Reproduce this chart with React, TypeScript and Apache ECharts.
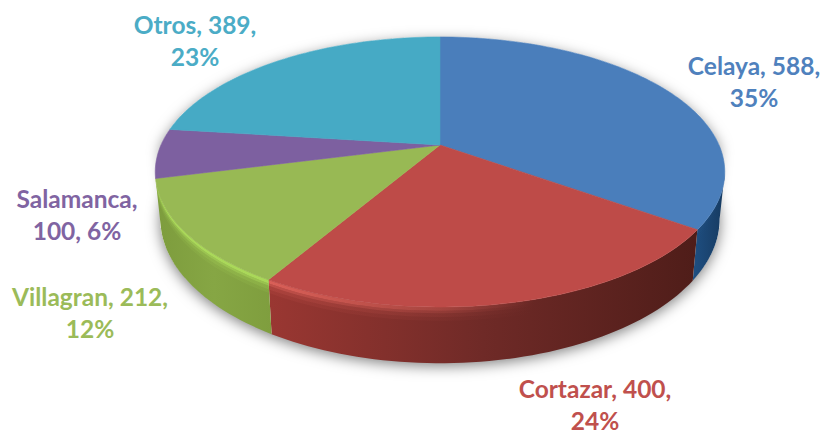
import React, { useEffect, useRef } from "react";
import * as echarts from "echarts";

const categories = ["Celaya", "Cortazar", "Villagran", "Salamanca", "Otros"];
const values = [588, 400, 212, 100, 389];
const percents = [35, 24, 12, 6, 23];
const labelLines = [
  ["Celaya, 588,", "35%"],
  ["Cortazar, 400,", "24%"],
  ["Villagran, 212,", "12%"],
  ["Salamanca,", "100, 6%"],
  ["Otros, 389,", "23%"],
];
const total = values.reduce((a, b) => a + b, 0);

const labelColors = ["#4f81bd", "#c0504d", "#9bbb59", "#8064a2", "#4bacc6"];
const faceColors = ["#4a7ebb", "#be4b48", "#98b954", "#7d60a0", "#46aac5"];
const wallStops: string[][] = [
  ["#1f4f82", "#163a60"],
  ["#9a3732", "#6f2a27", "#4f1d19"],
  ["#7d9c3d", "#86a644", "#7f9e3e"],
  ["#5f4a80", "#5f4a80"],
  ["#2f7f95", "#2f7f95"],
];
const rimColors = ["#2f659e", "#e0645c", "#aede5c", "#8064a2", "#4bacc6"];
const rimEnd = [0, 0, 1, 0, 0];
const rimStart = [0.15, 1, 1, 0, 0];

// Perspective model of the pie's disc
const CX = 440, CY = 145, A = 279, B = 129.6, K = 0.2, DEPTH = 45;
const WALL_FROM = 101.5, WALL_TO = 256;
const labelAnchors = [
  [754, 81], [595, 404], [90, 312], [77, 214], [195, 40],
];

const rad = (d: number) => (d * Math.PI) / 180;
function project(deg: number, d = 0): number[] {
  const X = Math.sin(rad(deg));
  const Y = -Math.cos(rad(deg));
  const w = 1 - K * Y;
  const f = 1 - (0.018 * d) / DEPTH;
  return [CX + (A * f * X) / w, CY + (B * Y) / w + d / w];
}
function arcPoints(from: number, to: number, d = 0): number[][] {
  const n = Math.max(2, Math.ceil((to - from) / 1.5));
  const pts: number[][] = [];
  for (let i = 0; i <= n; i++) pts.push(project(from + ((to - from) * i) / n, d));
  return pts;
}
function band(from: number, to: number, d0: number, d1: number): number[][] {
  return arcPoints(from, to, d0).concat(arcPoints(from, to, d1).reverse());
}
function sliceRange(i: number): number[] {
  const before = values.slice(0, i).reduce((a, b) => a + b, 0);
  return [(before / total) * 360, ((before + values[i]) / total) * 360];
}
function hGrad(stops: string[]) {
  return new echarts.graphic.LinearGradient(
    0, 0, 1, 0,
    stops.map((color, i) => ({ offset: stops.length > 1 ? i / (stops.length - 1) : 0, color }))
  );
}
function fade(color: string, a0: number, a1: number, mid: number) {
  const n = parseInt(color.slice(1), 16);
  const rgb = `${(n >> 16) & 255},${(n >> 8) & 255},${n & 255}`;
  return new echarts.graphic.LinearGradient(0, 0, 1, 0, [
    { offset: 0, color: `rgba(${rgb},${a0})` },
    { offset: mid, color: `rgba(${rgb},${a1})` },
    { offset: 1, color: `rgba(${rgb},${a1})` },
  ]);
}

function renderSlice(params: any) {
  const i = params.dataIndex;
  const [from, to] = sliceRange(i);
  const children: any[] = [];
  const wf = Math.max(from, WALL_FROM);
  const wt = Math.min(to, WALL_TO);
  if (wt > wf) {
    children.push({
      type: "polygon",
      shape: { points: band(wf, wt, 0, DEPTH) },
      style: { fill: hGrad(wallStops[i]) },
    });
    if (rimStart[i] > 0) {
      const strips = [[0, 3, 0.9], [3, 5, 0.55], [5, 8, 0.25], [8, 11, 0.1]];
      strips.forEach(([d0, d1, alpha]) => {
        // wall runs clockwise, so the left end of the red wall is its brightest end
        const fill = i === 1
          ? new echarts.graphic.LinearGradient(0, 0, 1, 0, [
              { offset: 0, color: `rgba(224,100,92,${alpha})` },
              { offset: 0.42, color: `rgba(224,100,92,${alpha * 0.45})` },
              { offset: 0.62, color: "rgba(224,100,92,0)" },
              { offset: 1, color: "rgba(224,100,92,0)" },
            ])
          : fade(rimColors[i], alpha * rimStart[i], alpha * rimEnd[i], 1);
        children.push({
          type: "polygon",
          shape: { points: band(wf, wt, d0, d1) },
          style: { fill },
        });
      });
    }
  }
  const face = [[CX, CY]].concat(arcPoints(from, to));
  children.push({
    type: "polygon",
    shape: { points: face },
    style: { fill: faceColors[i], stroke: faceColors[i], lineWidth: 0.6 },
  });
  const [lx, ly] = labelAnchors[i];
  children.push({
    type: "text",
    x: lx,
    y: ly,
    style: {
      text: labelLines[i].join("\n"),
      fill: labelColors[i],
      font: 'bold 24.5px Lato',
      lineHeight: 32,
      align: "center",
      verticalAlign: "middle",
    },
  });
  return { type: "group", children };
}

function renderShadow() {
  return {
    type: "polygon",
    shape: { points: arcPoints(90, 270, DEPTH - 1).concat(arcPoints(270, 450, 0)) },
    style: {
      fill: "#ffffff",
      shadowBlur: 14,
      shadowColor: "rgba(0,0,0,0.5)",
      shadowOffsetY: 4,
    },
  };
}

export default function App() {
  const ref = useRef<HTMLDivElement>(null);
  useEffect(() => {
    const chart = echarts.init(ref.current!, undefined, { renderer: "svg" });
    chart.setOption({
      animation: false,
      backgroundColor: "#ffffff",
      series: [
        {
          type: "custom",
          coordinateSystem: "none",
          silent: true,
          z: 1,
          data: [[total]],
          renderItem: renderShadow,
        },
        {
          type: "custom",
          coordinateSystem: "none",
          silent: true,
          z: 2,
          data: values.map((v, i) => ({ name: categories[i], value: [v, percents[i]] })),
          renderItem: renderSlice,
        },
      ],
    });
    return () => chart.dispose();
  }, []);
  return <div ref={ref} style={{ position: "fixed", left: 0, top: 0, width: 823, height: 433 }} />;
}
